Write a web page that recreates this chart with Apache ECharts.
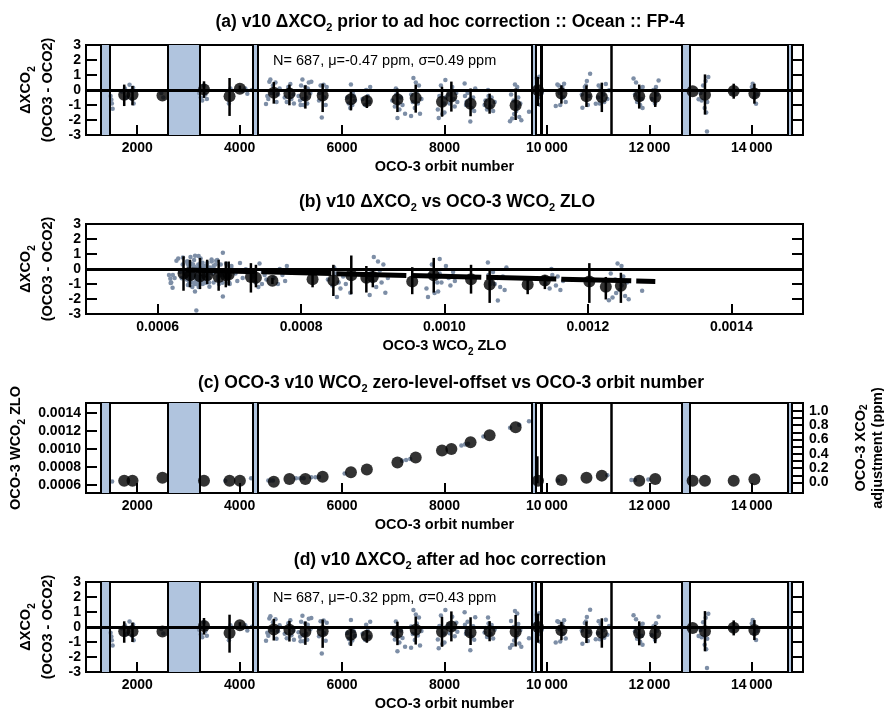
<!DOCTYPE html>
<html><head><meta charset="utf-8">
<script src="https://cdn.jsdelivr.net/npm/echarts@6/dist/echarts.min.js"></script>
<style>html,body{margin:0;padding:0;background:#fff}#c{width:884px;height:711px}</style>
</head><body><div id="c"></div>
<script>
// ---------- data ----------
const orbitTicks = [2000, 4000, 6000, 8000, 10000, 12000, 14000];
const orbitTickLabels = ['2000', '4000', '6000', '8000', '10\u2009000', '12\u2009000', '14\u2009000'];
const zloTicks = [0.0006, 0.0008, 0.0010, 0.0012, 0.0014];
const dxTicks = [-3, -2, -1, 0, 1, 2, 3];
const adjTicks = [0.0, 0.2, 0.4, 0.6, 0.8, 1.0];

// gaps (blue bands) and extra boundary lines, orbit numbers
const bandStart = [1288, 2605, 4252, 9705, 12633, 14700];
const bandEnd   = [1469, 3218, 4345, 9778, 12795, 14772];
const extraLines = [9888, 11260];

// orbit groups
const groupOrbit = [1746,1908,2493,3304,3803,4005,4667,4972,5283,5621,6173,6484,7081,7438,7951,8134,8509,8881,9389,9826,10283,10772,11072,11802,12115,12845,13086,13647,14051];
const groupZLO = [0.000649,0.000649,0.000682,0.000649,0.000649,0.000649,0.000637,0.000667,0.000667,0.000693,0.000742,0.000772,0.00085,0.000907,0.000985,0.001,0.001075,0.001153,0.001243,0.000649,0.000656,0.000682,0.000705,0.000649,0.000667,0.000649,0.000649,0.000649,0.000664];
const meanA  = [-0.31,-0.31,-0.36,0.04,-0.42,0.09,-0.18,-0.24,-0.36,-0.36,-0.62,-0.73,-0.62,-0.53,-0.78,-0.44,-0.91,-0.91,-1.02,-0.02,-0.24,-0.42,-0.47,-0.42,-0.47,-0.09,-0.31,-0.07,-0.24];
const errHiA = [0.36,0.27,null,0.58,0.80,0.30,0.53,0.36,0.31,0.42,-0.13,-0.36,0.09,0.36,0.22,0.56,0.10,-0.24,0.10,0.87,0.31,0.31,0.49,0.36,0.09,null,1.04,0.42,0.42];
const errLoA = [-1.07,-1.02,null,-0.53,-1.73,-0.15,-0.91,-1.02,-1.24,-1.47,-1.36,-1.20,-1.47,-1.51,-1.78,-1.44,-1.75,-1.58,-2.00,-1.07,-0.91,-1.13,-1.47,-1.24,-1.13,null,-1.64,-0.58,-0.91];
const meanD  = [-0.29,-0.29,-0.30,0.06,-0.40,0.11,-0.17,-0.19,-0.31,-0.28,-0.52,-0.58,-0.36,-0.19,-0.32,0.04,-0.36,-0.28,-0.32,0.00,-0.21,-0.36,-0.38,-0.40,-0.42,-0.07,-0.29,-0.05,-0.20];

// individual soundings (grouped by orbit group), panel (a) values
const dotOrbit = [
 [1480,1495,1505,1520,1700,1760,1790],
 [1850,1880,1900,1920,1930],
 [2470,2510],
 [3210,3240,3270,3300,3330,3360],
 [3790,3820],
 [4060,4110,4150,4240],
 [4515,4540,4560,4580,4600,4620,4650,4700,4720,4750,4780],
 [4880,4920,4950,4990,5010,5050,5060],
 [5150,5180,5190,5200,5226,5240,5250,5280,5300,5320,5330,5350,5380,5400],
 [5550,5560,5580,5604,5640,5650,5680,5700],
 [6100,6130,6160,6173,6200,6210,6230,6250],
 [6400,6450,6470,6500,6530,6549],
 [6980,7030,7050,7060,7081,7100,7120,7150,7180,7230],
 [7347,7350,7380,7393,7420,7440,7460,7480,7500,7522,7550],
 [7870,7887,7900,7930,7960,7990,8000,8017,8020],
 [8080,8100,8150,8180,8200,8230,8250],
 [8393,8400,8420,8430,8450,8470,8500,8504,8530,8560,8580,8600],
 [8783,8800,8830,8850,8860,8900,8920,8950,8980],
 [9279,9300,9320,9350,9360,9376,9400,9420,9420,9440,9460,9480,9500,9650],
 [9780,9800,9830,9851,9870,9900],
 [10172,10204,10230,10250,10260,10300,10320,10335,10367],
 [10680,10693,10740,10760,10780,10800,10820,10843],
 [10954,11000,11010,11030,11050,11100,11120,11150,11180,11215],
 [11691,11720,11740,11760,11780,11790,11820,11830,11850,11867,11870],
 [12050,12080,12110,12130,12150,12180],
 [],
 [12962,13000,13020,13050,13080,13100,13110,13125,13130,13151],
 [13620],
 [14000,14018,14050,14083,14100]
];
const dotValue = [
 [-0.4,-0.65,-0.9,-1.25,-0.1,0.1,-0.5],
 [0.35,-0.05,-0.6,0.15,-0.9],
 [-0.2,-0.5],
 [-0.2,-0.5,-0.7,0.3,-0.3,-0.6],
 [-0.9,0.1],
 [-0.05,0.1,-0.25,0.0],
 [-0.93,-0.4,-0.6,0.55,0.7,-0.2,0.3,0.5,-0.8,-0.3,0.1],
 [-0.5,-0.8,0.2,0.4,-0.6,-0.3,-0.9],
 [-0.4,-0.7,-1.0,0.3,0.7,-0.6,-1.0,0.2,-0.5,-0.9,0.1,0.5,-0.2,0.55],
 [-0.7,-0.2,0.3,-1.84,0.35,-0.5,-1.0,0.2],
 [-0.5,-0.9,-1.2,0.36,-1.0,-0.2,-0.4,-0.7],
 [-0.6,-1.0,0.0,-0.4,-0.8,0.2],
 [-0.7,-1.1,0.1,-0.3,-1.87,-0.9,-1.3,-0.5,-1.0,-1.58],
 [-1.73,-0.3,-0.8,0.8,-1.2,0.5,-0.1,-0.9,0.3,-1.58,-0.6],
 [-1.3,-1.87,-0.4,0.3,-1.6,-0.9,-1.5,0.67,-0.5],
 [-0.3,-0.9,0.2,-0.6,-1.1,-0.2,-0.8],
 [0.44,-0.4,-1.0,-0.8,-0.2,-1.0,-0.6,-2.1,-1.2,-0.5,-1.4,0.1],
 [-1.0,-0.7,-1.3,0.0,-0.4,-1.1,-0.5,-1.4,-0.8],
 [-2.09,-0.3,-1.9,-0.7,-1.6,0.36,-1.4,-1.1,0.2,-0.5,-1.8,-0.9,-2.02,-1.45],
 [0.2,0.8,-0.5,0.89,-1.0,-0.2],
 [-1.07,0.36,0.3,-0.2,-1.0,0.2,-0.5,0.42,-0.8],
 [-0.3,-1.18,0.2,0.3,0.6,-1.0,-0.4,1.09],
 [-0.91,-0.5,0.3,-0.9,0.1,-0.3,-0.8,0.4,-0.6,-0.02],
 [0.76,-0.3,0.5,-0.8,-0.5,-0.1,-1.0,0.1,-0.6,-1.2,0.2],
 [-0.6,0.0,-0.9,0.2,-0.3,0.64],
 [],
 [-0.62,-0.2,-0.7,0.3,-1.2,0.6,-1.5,-2.76,-0.8,0.87],
 [-0.2],
 [0.2,0.42,-0.5,-0.91,-0.3]
];
const zloPerOrbit = 1.25e-7; // ZLO drift per orbit used to place soundings along ZLO

// panel (b): ZLO bins
const binZLO  = [0.000636,0.000645,0.000659,0.000669,0.000685,0.000695,0.000699,0.00073,0.000737,0.00076,0.000816,0.000845,0.00087,0.000891,0.0009,0.000955,0.000985,0.001037,0.001063,0.001116,0.00114,0.001202,0.001225,0.001246];
const binMean = [-0.30,-0.42,-0.48,-0.42,-0.53,-0.42,-0.37,-0.53,-0.58,-0.79,-0.69,-0.76,-0.42,-0.58,-0.53,-0.83,-0.42,-0.69,-1.04,-1.04,-0.76,-0.83,-1.18,-1.11];
const binHi   = [0.85,0.62,0.74,0.62,0.62,0.50,0.50,0.39,0.28,-0.60,0.05,0.28,0.90,0.20,-0.07,0.12,0.74,0.28,-0.07,-0.53,-0.42,0.39,-0.53,-0.25];
const binLo   = [-1.45,-1.22,-1.34,-1.00,-1.45,-1.22,-1.10,-1.57,-1.22,-1.00,-1.22,-1.80,-1.68,-1.57,-1.22,-1.68,-1.57,-1.64,-2.26,-1.68,-1.34,-2.26,-2.03,-2.26];
const fitZLO = [0.00064, 0.001294];
const fitVal = [-0.07, -0.83];

// panel (c): individual ZLO values
const zloDotOrbit = [1510,3720,4224,4560,4600,4650,5100,5180,5250,5400,5480,5550,6050,7170,7250,7330,8330,8400,8460,8760,9280,9460,9650,10220,11180,11650,11720,11980];
const zloDotValue = [0.00064,0.000649,0.000675,0.00065,0.00065,0.000652,0.000675,0.000675,0.000676,0.000686,0.000688,0.00069,0.00073,0.00087,0.00088,0.00089,0.00104,0.00105,0.00106,0.00114,0.001236,0.00127,0.00131,0.00065,0.00071,0.000656,0.000656,0.000662];
const zloBarOrbit = [9813];
const zloBarLo = [0.00062];
const zloBarHi = [0.00092];

const statsA = 'N= 687, \u03bc=-0.47 ppm, \u03c3=0.49 ppm';
const statsD = 'N= 687, \u03bc=-0.32 ppm, \u03c3=0.43 ppm';

// ---------- build ----------
const F = '"Liberation Sans", Arial, Helvetica, sans-serif';
const GREY = '#7d8ea6';
const BAND = '#b0c4de';
const rich = {
  m: {fontSize: 17.5, fontWeight: 'bold', fontFamily: F, color: '#000', lineHeight: 22},
  s: {fontSize: 11, fontWeight: 'bold', fontFamily: F, color: '#000', verticalAlign: 'bottom'}
};
const richAx = {
  m: {fontSize: 14.5, fontWeight: 'bold', fontFamily: F, color: '#000', lineHeight: 22},
  s: {fontSize: 10, fontWeight: 'bold', fontFamily: F, color: '#000', verticalAlign: 'bottom'}
};
const richAxR = {
  m: {fontSize: 14.5, fontWeight: 'bold', fontFamily: F, color: '#000', lineHeight: 17},
  s: {fontSize: 10, fontWeight: 'bold', fontFamily: F, color: '#000', verticalAlign: 'bottom'}
};

const dotsA = [], dotsD = [], dotsB = [];
dotOrbit.forEach((arr, g) => arr.forEach((o, i) => {
  const v = dotValue[g][i];
  dotsA.push([o, v]);
  dotsD.push([o, v + (meanD[g] - meanA[g])]);
  dotsB.push([groupZLO[g] + (o - groupOrbit[g]) * zloPerOrbit, v]);
}));
const meansA = groupOrbit.map((o, i) => [o, meanA[i]]);
const meansD = groupOrbit.map((o, i) => [o, meanD[i]]);
const barsA = [], barsD = [];
groupOrbit.forEach((o, i) => {
  if (errHiA[i] == null) return;
  barsA.push([o, errLoA[i], errHiA[i]]);
  const s = meanD[i] - meanA[i];
  barsD.push([o, errLoA[i] + s, errHiA[i] + s]);
});
const meansB = binZLO.map((z, i) => [z, binMean[i]]);
const barsB = binZLO.map((z, i) => [z, binLo[i], binHi[i]]);
const meansC = groupOrbit.map((o, i) => [o, groupZLO[i]]);
const dotsC = zloDotOrbit.map((o, i) => [o, zloDotValue[i]]);
const barsC = zloBarOrbit.map((o, i) => [o, zloBarLo[i], zloBarHi[i]]);

const grids = [45, 224, 403, 582].map(t => ({
  left: 86, top: t, width: 717, height: 90, show: true,
  borderColor: '#000', borderWidth: 2, backgroundColor: 'transparent',
  containLabel: false, outerBoundsMode: 'none'
}));

const lab = {fontSize: 14, fontWeight: 'bold', color: '#000', fontFamily: F};
const noLine = {show: false, onZero: false};
function xOrbit(g) {
  return {type: 'value', gridIndex: g, min: 1000, max: 15000,
    axisLine: noLine, splitLine: {show: false},
    axisTick: {inside: true, length: 10, lineStyle: {color: '#000', width: 2}, customValues: orbitTicks},
    axisLabel: Object.assign({customValues: orbitTicks, margin: 6,
      formatter: v => orbitTickLabels[orbitTicks.indexOf(v)]}, lab),
    name: '{m|OCO-3 orbit number}', nameLocation: 'middle', nameGap: 21,
    nameTextStyle: {rich: richAx}};
}
function yDx(g, right) {
  return {type: 'value', gridIndex: g, min: -3, max: 3, position: right ? 'right' : 'left',
    axisLine: noLine, splitLine: {show: false},
    axisTick: {inside: true, length: 11, lineStyle: {color: '#000', width: 2}, customValues: [-2, -1, 0, 1, 2]},
    axisLabel: right ? {show: false} : Object.assign({customValues: dxTicks, margin: 5}, lab),
    name: right ? '' : '{m|\u0394XCO}{s|2}\n{m|(OCO3 - OCO2)}', nameLocation: 'middle', nameGap: 27,
    nameRotate: 90, nameTextStyle: {rich: richAx}};
}
const xAxes = [
  xOrbit(0),
  {type: 'value', gridIndex: 1, min: 0.0005, max: 0.0015,
    axisLine: noLine, splitLine: {show: false},
    axisTick: {inside: true, length: 10, lineStyle: {color: '#000', width: 2}, customValues: zloTicks},
    axisLabel: Object.assign({customValues: zloTicks, margin: 6, formatter: v => v.toFixed(4)}, lab),
    name: '{m|OCO-3 WCO}{s|2}{m| ZLO}', nameLocation: 'middle', nameGap: 21, nameTextStyle: {rich: richAx}},
  xOrbit(2),
  xOrbit(3)
];
const yAxes = [
  yDx(0, false), yDx(0, true),
  yDx(1, false), yDx(1, true),
  {type: 'value', gridIndex: 2, min: 0.000512, max: 0.001512, position: 'left',
    axisLine: noLine, splitLine: {show: false},
    axisTick: {inside: true, length: 11, lineStyle: {color: '#000', width: 2}, customValues: zloTicks},
    axisLabel: Object.assign({customValues: zloTicks, margin: 5, formatter: v => v.toFixed(4)}, lab),
    name: '{m|OCO-3 WCO}{s|2}{m| ZLO}', nameLocation: 'middle', nameGap: 46, nameRotate: 90,
    nameTextStyle: {rich: richAx}},
  {type: 'value', gridIndex: 2, min: -0.146, max: 1.108, position: 'right',
    axisLine: noLine, splitLine: {show: false},
    axisTick: {inside: true, length: 11, lineStyle: {color: '#000', width: 2},
      customValues: [0, 0.1, 0.2, 0.3, 0.4, 0.5, 0.6, 0.7, 0.8, 0.9, 1.0]},
    axisLabel: Object.assign({customValues: adjTicks, margin: 6, formatter: v => v.toFixed(1)}, lab),
    name: '{m|OCO-3 XCO}{s|2}', nameLocation: 'middle', nameGap: 49, nameRotate: 90,
    nameTextStyle: {rich: richAxR}},
  yDx(3, false), yDx(3, true),
  // second line of the right-hand axis title of panel (c)
  {type: 'value', gridIndex: 2, min: 0, max: 1, position: 'right',
    axisLine: noLine, splitLine: {show: false}, axisTick: {show: false}, axisLabel: {show: false},
    name: '{m|adjustment (ppm)}', nameLocation: 'middle', nameGap: 66, nameRotate: 90,
    nameTextStyle: {rich: richAxR}}
];

function bandSeries(xi, yi) {
  const areas = bandStart.map((s, i) => [{xAxis: s}, {xAxis: bandEnd[i]}]);
  const lines = bandStart.map(v => ({xAxis: v})).concat(bandEnd.map(v => ({xAxis: v})))
    .concat(extraLines.map((v, i) => ({xAxis: v, lineStyle: {width: i === 0 ? 3 : 2.5}})));
  return {type: 'scatter', xAxisIndex: xi, yAxisIndex: yi, data: [], z: 1, silent: true,
    markArea: {silent: true, itemStyle: {color: BAND, opacity: 1}, data: areas},
    markLine: {silent: true, symbol: 'none', label: {show: false}, animation: false,
      lineStyle: {color: '#000', width: 2, type: 'solid'}, data: lines}};
}
function zeroSeries(xi, yi) {
  return {type: 'scatter', xAxisIndex: xi, yAxisIndex: yi, data: [], z: 3, silent: true,
    markLine: {silent: true, symbol: 'none', label: {show: false}, animation: false,
      lineStyle: {color: '#000', width: 3, type: 'solid'}, data: [{yAxis: 0}]}};
}
function dotSeries(xi, yi, data) {
  return {type: 'scatter', xAxisIndex: xi, yAxisIndex: yi, data, z: 2, symbolSize: 4.5,
    itemStyle: {color: GREY, opacity: 1}, silent: true};
}
function meanSeries(xi, yi, data) {
  return {type: 'scatter', xAxisIndex: xi, yAxisIndex: yi, data, z: 5, symbolSize: 12,
    itemStyle: {color: '#000'}, silent: true};
}
function barSeries(xi, yi, data) {
  return {type: 'custom', xAxisIndex: xi, yAxisIndex: yi, data, z: 4, silent: true,
    encode: {x: 0, y: [1, 2]},
    renderItem: (p, api) => {
      const a = api.coord([api.value(0), api.value(1)]);
      const b = api.coord([api.value(0), api.value(2)]);
      return {type: 'line', shape: {x1: a[0], y1: a[1], x2: b[0], y2: b[1]},
        style: {stroke: '#000', lineWidth: 2.5}};
    }};
}

const series = [
  bandSeries(0, 0), dotSeries(0, 0, dotsA), zeroSeries(0, 0), barSeries(0, 0, barsA), meanSeries(0, 0, meansA),
  dotSeries(1, 2, dotsB), zeroSeries(1, 2), barSeries(1, 2, barsB), meanSeries(1, 2, meansB),
  {type: 'line', xAxisIndex: 1, yAxisIndex: 2, data: fitZLO.map((z, i) => [z, fitVal[i]]), z: 4,
    symbol: 'none', silent: true, lineStyle: {color: '#000', width: 5, type: [70, 5]}},
  bandSeries(2, 4), dotSeries(2, 4, dotsC), barSeries(2, 4, barsC), meanSeries(2, 4, meansC),
  bandSeries(3, 6), dotSeries(3, 6, dotsD), zeroSeries(3, 6), barSeries(3, 6, barsD), meanSeries(3, 6, meansD)
];

function ttl(text, x, y) {
  return {text, left: x, top: y, textAlign: 'center', textStyle: {rich}};
}
const statStyle = {fontSize: 14.5, fontWeight: 'normal', fontFamily: F, color: '#000'};
const titles = [
  ttl('{m|(a) v10 \u0394XCO}{s|2}{m| prior to ad hoc correction :: Ocean :: FP-4}', 445, 6),
  ttl('{m|(b) v10 \u0394XCO}{s|2}{m| vs OCO-3 WCO}{s|2}{m| ZLO}', 442, 186),
  ttl('{m|(c) OCO-3 v10 WCO}{s|2}{m| zero-level-offset vs OCO-3 orbit number}', 446, 367),
  ttl('{m|(d) v10 \u0394XCO}{s|2}{m| after ad hoc correction}', 445, 544),
  {text: statsA, left: 268, top: 48, textStyle: statStyle},
  {text: statsD, left: 268, top: 585, textStyle: statStyle}
];

const chart = echarts.init(document.getElementById('c'), null, {renderer: 'canvas'});
chart.setOption({
  animation: false, backgroundColor: '#fff',
  title: titles, grid: grids, xAxis: xAxes, yAxis: yAxes, series
});
</script></body></html>
